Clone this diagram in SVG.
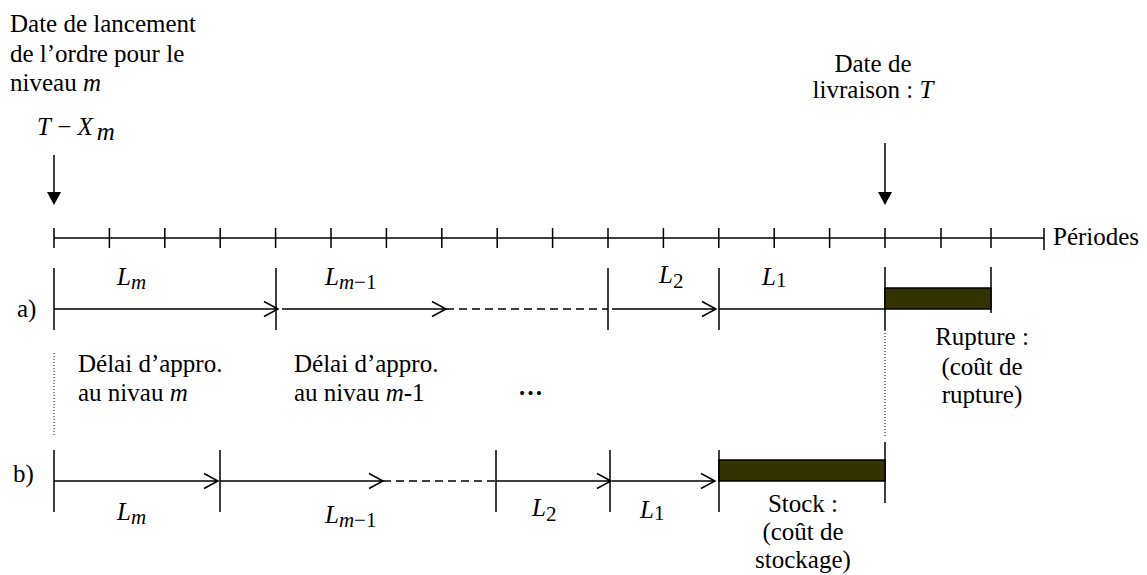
<svg xmlns="http://www.w3.org/2000/svg" width="1147" height="575" viewBox="0 0 1147 575" font-family="'Liberation Serif', 'DejaVu Serif', serif">
<style>
text{font-family:'Liberation Serif','DejaVu Serif',serif;font-size:25px;fill:#000}
.i{font-style:italic}
.s{font-size:21px}
.ln{stroke:#000;stroke-width:1.5;fill:none}
.dash{stroke:#000;stroke-width:1.5;stroke-dasharray:8,5;fill:none}
.dot{stroke:#000;stroke-width:1;stroke-dasharray:1,2;fill:none}
.bar{fill:#333300;stroke:#000;stroke-width:1.5}
.mid{text-anchor:middle}
</style>
<rect width="1147" height="575" fill="#fff"/>
<g id="label-lancement">
<text x="10" y="32">Date de lancement</text>
<text x="10" y="62">de l’ordre pour le</text>
<text x="10" y="91">niveau <tspan class="i">m</tspan></text>
<text x="37" y="135"><tspan class="i">T</tspan> − <tspan class="i">X</tspan><tspan class="i" dx="4" dy="5">m</tspan></text>
</g>
<g id="label-livraison">
<text class="mid" x="873" y="72">Date de</text>
<text class="mid" x="873" y="98">livraison : <tspan class="i">T</tspan></text>
</g>
<g id="connectors">
<line class="ln" x1="54" y1="155" x2="54" y2="192"/>
<path d="M47,192 L61,192 L54,205 Z" fill="#000"/>
<line class="ln" x1="885" y1="143" x2="885" y2="192"/>
<path d="M878,192 L892,192 L885,205 Z" fill="#000"/>
</g>
<g id="timeline">
<line class="ln" x1="54" y1="238" x2="1044" y2="238"/>
<path class="ln" d="M54,228V248 M109.4,228V248 M164.8,228V248 M220.2,228V248 M275.6,228V248 M331,228V248 M386.4,228V248 M441.8,228V248 M497.2,228V248 M552.6,228V248 M608,228V248 M663.4,228V248 M718.8,228V248 M774.2,228V248 M829.6,228V248 M885,228V248 M941,228V248 M991,228V248 M1044,228V250"/>
<text x="1053" y="245">Périodes</text>
</g>
<g id="row-a">
<text x="17" y="317">a)</text>
<path class="ln" d="M54,268V330 M276,268V330 M608,268V330 M719,268V330 M885,267V330 M991,267V313"/>
<path class="ln" d="M54,309H278 M264,301.5L278,309L264,316.5"/>
<path class="ln" d="M282,309H446 M432,301.5L446,309L432,316.5"/>
<line class="dash" x1="446" y1="309" x2="608" y2="309"/>
<path class="ln" d="M612,309H716 M702,301.5L716,309L702,316.5"/>
<line class="ln" x1="719" y1="309" x2="885" y2="309"/>
<rect class="bar" x="885" y="288" width="106" height="21"/>
<line class="dot" x1="885" y1="330" x2="885" y2="437"/>
<line class="dot" x1="54" y1="353" x2="54" y2="436"/>
<text class="i" x="117" y="285">L<tspan class="s" dy="4">m</tspan></text>
<text class="i" x="325" y="285">L<tspan class="s" dy="4">m</tspan><tspan class="s" font-style="normal">−1</tspan></text>
<text class="i" x="659" y="283">L<tspan class="s" font-style="normal" dy="5">2</tspan></text>
<text class="i" x="762" y="285">L<tspan class="s" font-style="normal" dy="2">1</tspan></text>
</g>
<g id="label-delai-m">
<text x="78" y="372">Délai d’appro.</text>
<text x="78" y="401">au nivau <tspan class="i">m</tspan></text>
</g>
<g id="label-delai-m1">
<text x="294" y="372">Délai d’appro.</text>
<text x="294" y="401">au nivau <tspan class="i">m</tspan>-1</text>
</g>
<text x="518" y="395" font-weight="bold">…</text>
<g id="label-rupture">
<text class="mid" x="982" y="345">Rupture :</text>
<text class="mid" x="982" y="375">(coût de</text>
<text class="mid" x="982" y="403">rupture)</text>
</g>
<g id="row-b">
<text x="13" y="482">b)</text>
<path class="ln" d="M54,450V512 M220,450V512 M496,450V512 M610,450V512 M719,450V512 M885,442V503"/>
<path class="ln" d="M54,481H218 M204,473.5L218,481L204,488.5"/>
<path class="ln" d="M220,481H383 M369,473.5L383,481L369,488.5"/>
<line class="dash" x1="383" y1="481" x2="496" y2="481"/>
<path class="ln" d="M496,481H611 M597,473.5L611,481L597,488.5"/>
<path class="ln" d="M612,481H715 M701,473.5L715,481L701,488.5"/>
<rect class="bar" x="719" y="460" width="166" height="21"/>
<text class="i" x="117" y="520">L<tspan class="s" dy="4">m</tspan></text>
<text class="i" x="325" y="523">L<tspan class="s" dy="4">m</tspan><tspan class="s" font-style="normal">−1</tspan></text>
<text class="i" x="532" y="516">L<tspan class="s" font-style="normal" dy="5">2</tspan></text>
<text class="i" x="640" y="518">L<tspan class="s" font-style="normal" dy="2">1</tspan></text>
</g>
<g id="label-stock">
<text class="mid" x="803" y="512">Stock :</text>
<text class="mid" x="803" y="540">(coût de</text>
<text class="mid" x="803" y="568">stockage)</text>
</g>
</svg>
